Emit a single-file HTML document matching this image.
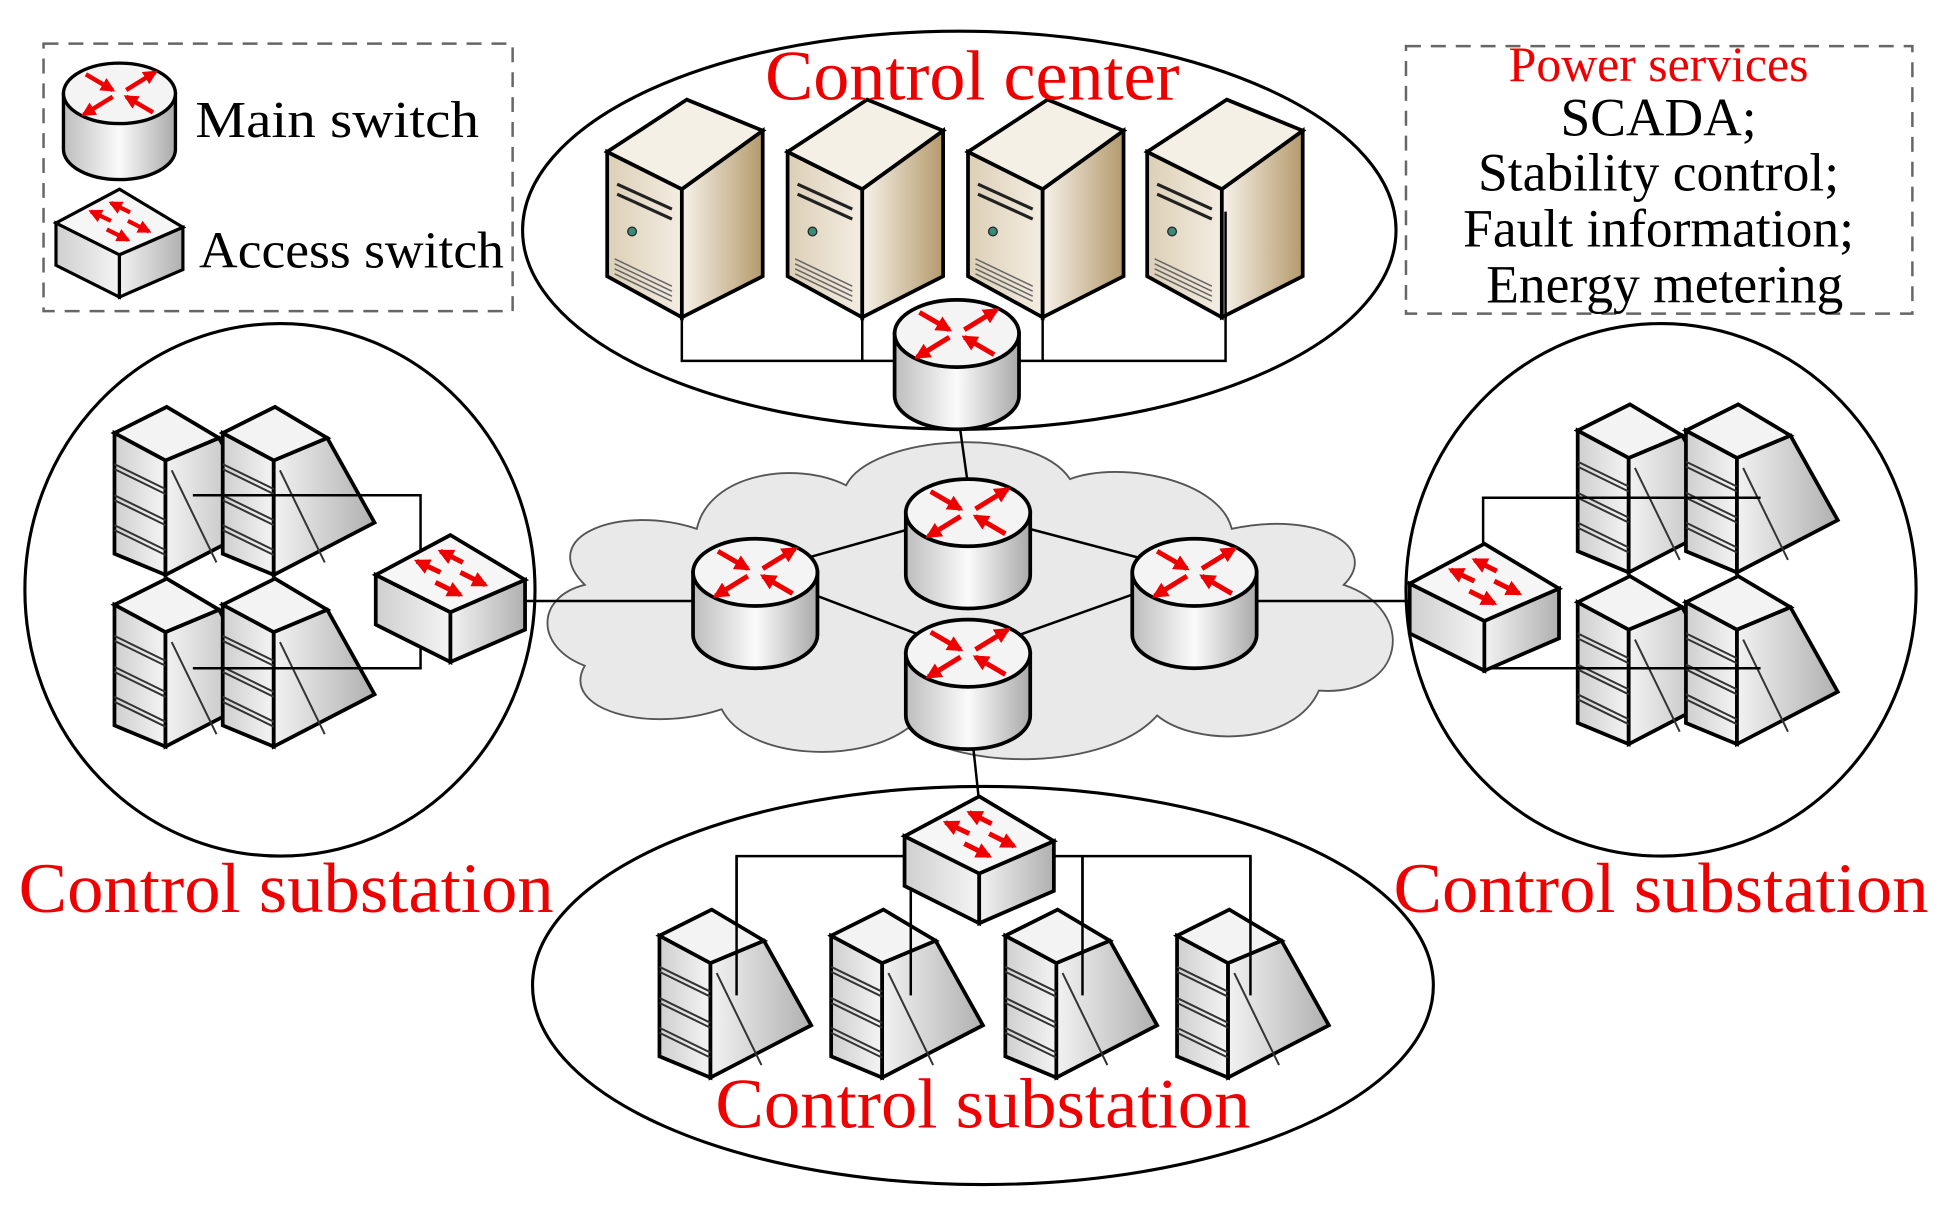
<!DOCTYPE html>
<html><head><meta charset="utf-8"><style>
html,body{margin:0;padding:0;background:#fff}
svg{display:block}
text{font-family:"Liberation Serif",serif}
</style></head><body>
<svg width="1941" height="1207" viewBox="0 0 1560 970" xmlns="http://www.w3.org/2000/svg">
<defs>
<linearGradient id="cyl" x1="0" x2="1" y1="0" y2="0">
<stop offset="0" stop-color="#bdbdbd"/><stop offset="0.5" stop-color="#fbfbfb"/><stop offset="1" stop-color="#a9a9a9"/></linearGradient>
<linearGradient id="gl" x1="0" x2="1"><stop offset="0" stop-color="#cfcfcf"/><stop offset="1" stop-color="#f4f4f4"/></linearGradient>
<linearGradient id="gr" x1="0" x2="1"><stop offset="0" stop-color="#f2f2f2"/><stop offset="1" stop-color="#b0b0b0"/></linearGradient>
<linearGradient id="bl" x1="0" x2="1"><stop offset="0" stop-color="#dccfb6"/><stop offset="1" stop-color="#f3ede2"/></linearGradient>
<linearGradient id="br" x1="0" x2="1"><stop offset="0" stop-color="#f7f2ea"/><stop offset="1" stop-color="#b49a6c"/></linearGradient>
<marker id="ah" viewBox="0 0 10 10" refX="8" refY="5" markerWidth="3.2" markerHeight="3.2" orient="auto"><path d="M0,0L10,5L0,10z" fill="#e00"/></marker>
<g id="router">
 <path d="M-50,0 L-50,50 A50,27 0 0 0 50,50 L50,0 Z" fill="url(#cyl)" stroke="#000" stroke-width="3"/>
 <ellipse cx="0" cy="0" rx="50" ry="27" fill="#f4f4f4" stroke="#000" stroke-width="3"/>
 <g stroke="#e00" stroke-width="4" marker-end="url(#ah)">
  <line x1="-30" y1="-17" x2="-6" y2="-3"/><line x1="30" y1="17" x2="6" y2="3"/>
  <line x1="6" y1="-3" x2="32" y2="-19"/><line x1="-6" y1="3" x2="-32" y2="19"/>
 </g>
</g>
<g id="acc">
 <path d="M-60,32 L0,62 L0,102 L-60,72 Z" fill="url(#gl)" stroke="#000" stroke-width="3"/>
 <path d="M0,62 L60,36 L60,76 L0,102 Z" fill="url(#gr)" stroke="#000" stroke-width="3"/>
 <path d="M0,0 L60,36 L0,62 L-60,32 Z" fill="#f6f6f6" stroke="#000" stroke-width="3"/>
 <g stroke="#e00" stroke-width="4" marker-end="url(#ah)">
  <line x1="10" y1="22" x2="-8" y2="13"/><line x1="-8" y1="30" x2="-27" y2="21"/>
  <line x1="8" y1="30" x2="28" y2="40"/><line x1="-12" y1="38" x2="8" y2="48"/>
 </g>
</g>
<g id="rack">
 <path d="M0,0 L41,22 L41,114 L0,97 Z" fill="url(#gl)" stroke="#000" stroke-width="3"/>
 <path d="M41,22 L84,4 L122,72 L41,114 Z" fill="url(#gr)" stroke="#000" stroke-width="3"/>
 <path d="M0,0 L42,-21 L84,4 L41,22 Z" fill="#f3f3f3" stroke="#000" stroke-width="3"/>
 <g stroke="#333" stroke-width="1.6" fill="none">
  <line x1="0" y1="25" x2="41" y2="45"/><line x1="0" y1="29" x2="41" y2="49"/>
  <line x1="0" y1="50" x2="41" y2="70"/><line x1="0" y1="54" x2="41" y2="74"/>
  <line x1="0" y1="74" x2="41" y2="94"/><line x1="0" y1="78" x2="41" y2="98"/>
  <line x1="46" y1="30" x2="82" y2="104"/>
 </g>
</g>
<g id="tower">
 <path d="M0,42 L60,72 L60,175 L0,142 Z" fill="url(#bl)" stroke="#000" stroke-width="3"/>
 <path d="M60,72 L125,25 L125,142 L60,175 Z" fill="url(#br)" stroke="#000" stroke-width="3"/>
 <path d="M0,42 L64,0 L125,25 L60,72 Z" fill="#f5f0e6" stroke="#000" stroke-width="3"/>
 <g stroke="#222" stroke-width="2.5"><line x1="8" y1="68" x2="52" y2="88"/><line x1="8" y1="76" x2="52" y2="96"/></g>
 <circle cx="20" cy="106" r="3.5" fill="#3a8a7a" stroke="#222"/>
 <g stroke="#666" stroke-width="1.2"><line x1="6" y1="128" x2="52" y2="150"/><line x1="6" y1="132" x2="52" y2="154"/><line x1="6" y1="136" x2="52" y2="158"/><line x1="6" y1="140" x2="52" y2="162"/></g>
</g>
</defs>

<!-- legend -->
<rect x="35" y="35" width="377" height="215" fill="none" stroke="#666" stroke-width="2" stroke-dasharray="12,8"/>
<g transform="translate(96,75) scale(0.9)"><use href="#router"/></g>
<g transform="translate(96,152) scale(0.85)"><use href="#acc"/></g>
<text x="157" y="110" font-size="42" textLength="228" lengthAdjust="spacingAndGlyphs">Main  switch</text>
<text x="160" y="215" font-size="42" textLength="245" lengthAdjust="spacingAndGlyphs">Access switch</text>

<!-- power services -->
<rect x="1130" y="37" width="407" height="215" fill="none" stroke="#666" stroke-width="2" stroke-dasharray="12,8"/>
<g text-anchor="middle" font-size="43">
<text x="1333" y="65" fill="#e00" font-size="40">Power services</text>
<text x="1333" y="109">SCADA;</text>
<text x="1333" y="153">Stability control;</text>
<text x="1333" y="198">Fault information;</text>
<text x="1338" y="243">Energy metering</text>
</g>

<!-- region ellipses -->
<g fill="none" stroke="#000" stroke-width="2.5">
<ellipse cx="771" cy="185" rx="351" ry="160"/>
<ellipse cx="225" cy="474" rx="205" ry="214"/>
<ellipse cx="1335" cy="474" rx="205" ry="214"/>
<ellipse cx="790" cy="792" rx="362" ry="160"/>
</g>

<!-- cloud -->
<path d="M470,470 C430,430 500,405 560,425 C570,380 640,370 680,390 C700,350 830,340 860,385 C900,370 980,385 990,425 C1060,410 1110,440 1080,470 C1140,490 1130,560 1060,555 C1040,600 960,600 930,575 C890,620 770,620 730,585 C690,615 600,610 580,570 C520,590 450,570 470,535 C430,520 430,480 470,470 Z" fill="#e9e9e9" stroke="#555" stroke-width="1.5"/>

<!-- connectors -->
<g stroke="#000" stroke-width="2" fill="none">
<path d="M548,170 V290 H985 V170"/>
<line x1="693" y1="170" x2="693" y2="290"/><line x1="838" y1="170" x2="838" y2="290"/>
<line x1="771" y1="340" x2="778" y2="390"/>
<path d="M607,460 L778,412 L960,460 L778,525 Z"/>
<line x1="420" y1="483" x2="560" y2="483"/>
<line x1="1008" y1="483" x2="1140" y2="483"/>
<line x1="780" y1="580" x2="787" y2="645"/>
<path d="M155,398 H338 V445"/><path d="M155,537 H338 V515"/>
<path d="M1415,400 H1192 V455"/><path d="M1415,537 H1192 V520"/>
<path d="M592,800 V688 H1005 V800"/>
<line x1="732" y1="688" x2="732" y2="800"/><line x1="870" y1="688" x2="870" y2="800"/>
</g>

<!-- control center towers -->
<use href="#tower" x="488" y="80"/><use href="#tower" x="633" y="80"/>
<use href="#tower" x="778" y="80"/><use href="#tower" x="922" y="80"/>
<g stroke="#000" stroke-width="2"><line x1="548" y1="170" x2="548" y2="255"/><line x1="693" y1="170" x2="693" y2="255"/><line x1="838" y1="170" x2="838" y2="255"/><line x1="985" y1="170" x2="985" y2="255"/></g>
<use href="#router" x="769" y="268"/>

<!-- core routers -->
<use href="#router" x="778" y="412"/>
<use href="#router" x="607" y="460"/>
<use href="#router" x="960" y="460"/>
<use href="#router" x="778" y="525"/>

<!-- left substation -->
<use href="#rack" x="92" y="348"/><use href="#rack" x="179" y="348"/>
<use href="#rack" x="92" y="486"/><use href="#rack" x="179" y="486"/>
<g stroke="#000" stroke-width="2"><line x1="155" y1="398" x2="338" y2="398"/><line x1="155" y1="537" x2="338" y2="537"/></g>
<use href="#acc" x="362" y="430"/>

<!-- right substation -->
<use href="#rack" x="1268" y="346"/><use href="#rack" x="1355" y="346"/>
<use href="#rack" x="1268" y="484"/><use href="#rack" x="1355" y="484"/>
<g stroke="#000" stroke-width="2"><line x1="1192" y1="400" x2="1415" y2="400"/><line x1="1192" y1="537" x2="1415" y2="537"/></g>
<use href="#acc" x="1193" y="437"/>

<!-- bottom substation -->
<use href="#rack" x="530" y="752"/><use href="#rack" x="668" y="752"/>
<use href="#rack" x="808" y="752"/><use href="#rack" x="946" y="752"/>
<g stroke="#000" stroke-width="2"><line x1="592" y1="688" x2="592" y2="800"/><line x1="732" y1="688" x2="732" y2="800"/><line x1="870" y1="688" x2="870" y2="800"/><line x1="1005" y1="688" x2="1005" y2="800"/></g>
<use href="#acc" x="787" y="640"/>

<!-- labels -->
<g fill="#e00" font-size="57">
<text x="615" y="80" textLength="333" lengthAdjust="spacingAndGlyphs">Control center</text>
<text x="15" y="733" textLength="430" lengthAdjust="spacingAndGlyphs">Control substation</text>
<text x="1120" y="733" textLength="430" lengthAdjust="spacingAndGlyphs">Control substation</text>
<text x="575" y="906" textLength="430" lengthAdjust="spacingAndGlyphs">Control substation</text>
</g>
</svg>
</body></html>
